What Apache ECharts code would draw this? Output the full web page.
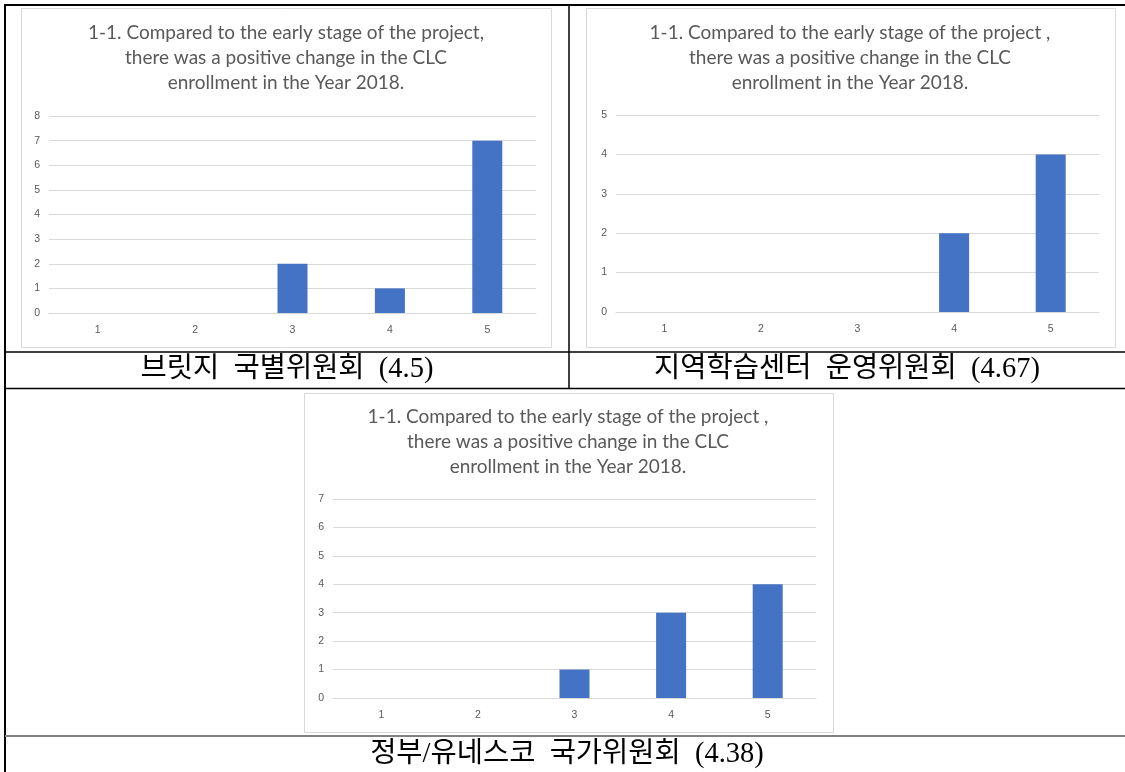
<!DOCTYPE html>
<html>
<head>
<meta charset="utf-8">
<script src="https://cdn.jsdelivr.net/npm/echarts@6/dist/echarts.min.js"></script>
<style>
  html, body { margin: 0; padding: 0; background: #fff; }
  #chart { width: 1125px; height: 772px; }
</style>
</head>
<body>
<div id="chart"></div>
<script>
// scores 1..5 and how many answered each
const categories = ['1', '2', '3', '4', '5'];
const bridgeCounts = [0, 0, 2, 1, 7];
const clcCounts = [0, 0, 0, 2, 4];
const natcomCounts = [0, 0, 1, 3, 4];
const yMaxes = [8, 5, 7];

const titleA = '1-1. Compared to the early stage of the project,\nthere was a positive change in the CLC\nenrollment in the Year 2018.';
const titleB = '1-1. Compared to the early stage of the project ,\nthere was a positive change in the CLC\nenrollment in the Year 2018.';
const captions = ['브릿지  국별위원회  (4.5)', '지역학습센터  운영위원회  (4.67)', '정부/유네스코  국가위원회  (4.38)'];

var myChart = echarts.init(document.getElementById('chart'));

const gray = '#595959';
const gridColor = '#d9d9d9';
const titleFont = 'Lato, "Open Sans", sans-serif';
const capFont = '"Liberation Serif", "Noto Sans CJK KR", serif';

function xAx(i) {
  return {
    type: 'category', gridIndex: i, data: categories,
    axisLine: { lineStyle: { color: gridColor } },
    axisTick: { show: false },
    axisLabel: { color: gray, fontSize: 10.5, margin: 12 }
  };
}
function yAx(i) {
  return {
    type: 'value', gridIndex: i, min: 0, max: yMaxes[i], interval: 1,
    axisLine: { show: false }, axisTick: { show: false },
    axisLabel: { color: gray, fontSize: 10.5, margin: 9 },
    splitLine: { lineStyle: { color: gridColor } }
  };
}
function bars(i, data) {
  return {
    type: 'bar', xAxisIndex: i, yAxisIndex: i, data: data,
    barWidth: 30, itemStyle: { color: '#4472c4' }, silent: true
  };
}

function box(x1, y1, x2, y2) {
  return { type: 'rect', z: -10, shape: { x: x1 + 0.5, y: y1 + 0.5, width: x2 - x1, height: y2 - y1 },
    style: { fill: '#fff', stroke: gridColor, lineWidth: 1 } };
}
function line(x1, y1, x2, y2, w, c) {
  return { type: 'line', z: 100, shape: { x1: x1, y1: y1, x2: x2, y2: y2 },
    style: { stroke: c || '#000', lineWidth: w } };
}
function ttl(x, y, text) {
  return { type: 'text', z: 10, x: x, y: y,
    style: { text: text, fill: gray, font: '19px ' + titleFont, textAlign: 'center',
      textVerticalAlign: 'top', lineHeight: 25 } };
}
function cap(x, y, text) {
  return { type: 'text', z: 10, x: x, y: y,
    style: { text: text, fill: '#000', font: '28.5px ' + capFont, textAlign: 'center',
      textVerticalAlign: 'middle' } };
}

var option = {
  animation: false,
  grid: [
    { left: 49, top: 116, width: 487, height: 197 },
    { left: 616, top: 115, width: 483, height: 197 },
    { left: 333, top: 499, width: 483, height: 199 }
  ],
  xAxis: [xAx(0), xAx(1), xAx(2)],
  yAxis: [yAx(0), yAx(1), yAx(2)],
  series: [bars(0, bridgeCounts), bars(1, clcCounts), bars(2, natcomCounts)],
  graphic: [
    box(21, 8, 551, 347),
    box(586, 8, 1115, 347),
    box(304, 393, 833, 732),
    ttl(286, 20, titleA),
    ttl(850, 20, titleB),
    ttl(568, 404, titleB),
    cap(287, 370, captions[0]),
    cap(847, 370, captions[1]),
    cap(567, 755, captions[2]),
    line(4, 5, 1125, 5, 2),
    line(5, 4, 5, 772, 2),
    line(569, 5, 569, 389, 1.5),
    line(5, 352, 1125, 352, 1.5),
    line(5, 388.5, 1125, 388.5, 1.5),
    line(5, 736, 1125, 736, 2, '#808080')
  ]
};

option && myChart.setOption(option);
</script>
</body>
</html>
